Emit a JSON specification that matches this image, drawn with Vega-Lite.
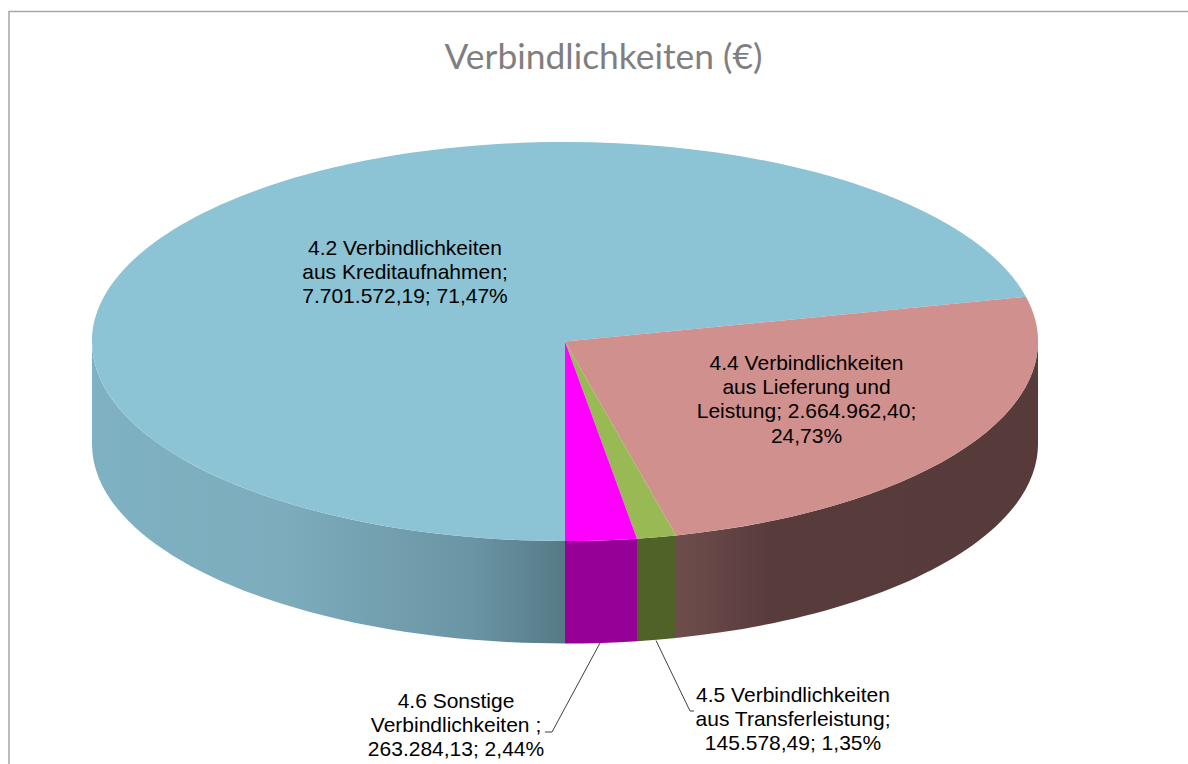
{
  "$schema": "https://vega.github.io/schema/vega-lite/v6.json",
  "width": 1130,
  "height": 683,
  "autosize": {"type": "none"},
  "padding": {"left": 0, "top": 0, "right": 58, "bottom": 81},
  "background": "#ffffff",
  "view": {"stroke": null},
  "title": {"text": "Verbindlichkeiten (€)", "font": "Lato", "fontSize": 35.4, "fontWeight": "normal", "color": "#7F7F7F", "anchor": "middle", "dx": 38.5, "dy": 76, "offset": 0},
  "data": {"values": [
    {"slice": "4.2", "name": "4.2 Verbindlichkeiten aus Kreditaufnahmen", "value": 7701572.19, "percent": 71.47, "label": "4.2 Verbindlichkeiten\naus Kreditaufnahmen;\n7.701.572,19; 71,47%"},
    {"slice": "4.4", "name": "4.4 Verbindlichkeiten aus Lieferung und Leistung", "value": 2664962.40, "percent": 24.73, "label": "4.4 Verbindlichkeiten\naus Lieferung und\nLeistung; 2.664.962,40;\n24,73%"},
    {"slice": "4.5", "name": "4.5 Verbindlichkeiten aus Transferleistung", "value": 145578.49, "percent": 1.35, "label": "4.5 Verbindlichkeiten\naus Transferleistung;\n145.578,49; 1,35%"},
    {"slice": "4.6", "name": "4.6 Sonstige Verbindlichkeiten", "value": 263284.13, "percent": 2.44, "label": "4.6 Sonstige\nVerbindlichkeiten ;\n263.284,13; 2,44%"}
  ]},
  "layer": [
    {"data": {"values": [{"element": "frame"}]},
     "mark": {"type": "point", "size": 4, "filled": false, "stroke": "#A6A6A6", "strokeWidth": 1.5, "opacity": 1, "shape": "M-556,423L-556,-330L623,-330"},
     "encoding": {}},
    {"transform": [{"filter": "datum.slice === '4.2'"}],
     "mark": {"type": "point", "size": 4, "filled": true, "opacity": 1, "shape": "M-473,0L-473,102.5A473,199.5 0 0 0 0,302L0,199.5A473,199.5 0 0 1 -473,0Z",
       "fill": {"gradient": "linear", "x1": 0, "y1": 0, "x2": 1, "y2": 0, "stops": [
         {"offset": 0, "color": "#7EB1C2"}, {"offset": 0.4, "color": "#7DADBD"}, {"offset": 0.6, "color": "#74A0B0"}, {"offset": 0.8, "color": "#6A95A4"}, {"offset": 1, "color": "#557A86"}]}},
     "encoding": {}},
    {"transform": [{"filter": "datum.slice === '4.6'"}],
     "mark": {"type": "point", "size": 4, "filled": true, "opacity": 1, "fill": "#960096", "shape": "M0,199.5L0,302A473,199.5 0 0 0 72,299.7L72,197.2A473,199.5 0 0 1 0,199.5Z"},
     "encoding": {}},
    {"transform": [{"filter": "datum.slice === '4.5'"}],
     "mark": {"type": "point", "size": 4, "filled": true, "opacity": 1, "fill": "#4F6228", "shape": "M72,197.2L72,299.7A473,199.5 0 0 0 111,296.4L111,193.9A473,199.5 0 0 1 72,197.2Z"},
     "encoding": {}},
    {"transform": [{"filter": "datum.slice === '4.4'"}],
     "mark": {"type": "point", "size": 4, "filled": true, "opacity": 1, "shape": "M111,193.9L111,296.4A473,199.5 0 0 0 473,102.5L473,0A473,199.5 0 0 1 111,193.9Z",
       "fill": {"gradient": "linear", "x1": 0, "y1": 0, "x2": 1, "y2": 0, "stops": [
         {"offset": 0, "color": "#6F4D4D"}, {"offset": 0.26, "color": "#583B3B"}, {"offset": 1, "color": "#573A3A"}]}},
     "encoding": {}},
    {"mark": {"type": "point", "size": 4, "filled": true, "opacity": 1},
     "encoding": {
       "shape": {"field": "slice", "type": "nominal", "legend": null, "scale": {"domain": ["4.2", "4.4", "4.5", "4.6"], "range": [
         "M0,0L461,-44.7A473,199.5 0 1 0 0,199.5Z",
         "M0,0L111,193.9A473,199.5 0 0 0 461,-44.7Z",
         "M0,0L72,197.2A473,199.5 0 0 0 111,193.9Z",
         "M0,0L0,199.5A473,199.5 0 0 0 72,197.2Z"]}},
       "fill": {"field": "slice", "type": "nominal", "legend": null, "scale": {"domain": ["4.2", "4.4", "4.5", "4.6"], "range": ["#8CC3D5", "#D0908D", "#98B954", "#FF00FF"]}}
     }},
    {"data": {"values": [{"element": "leader 4.6"}]},
     "mark": {"type": "point", "size": 4, "filled": false, "stroke": "#404040", "strokeWidth": 1, "opacity": 1, "shape": "M35,301.5L-13,390.5L-20,390.5"},
     "encoding": {}},
    {"data": {"values": [{"element": "leader 4.5"}]},
     "mark": {"type": "point", "size": 4, "filled": false, "stroke": "#404040", "strokeWidth": 1, "opacity": 1, "shape": "M91,299L125,369.5L129,369.5"},
     "encoding": {}},
    {"transform": [{"filter": "datum.slice === '4.2'"}],
     "mark": {"type": "text", "font": "Liberation Sans", "fontSize": 21, "color": "#000000", "align": "center", "baseline": "middle", "lineBreak": "\n", "lineHeight": 24.2, "dx": -160, "dy": -92.5},
     "encoding": {"text": {"field": "label"}}},
    {"transform": [{"filter": "datum.slice === '4.4'"}],
     "mark": {"type": "text", "font": "Liberation Sans", "fontSize": 21, "color": "#000000", "align": "center", "baseline": "middle", "lineBreak": "\n", "lineHeight": 24.2, "dx": 241.5, "dy": 22.5},
     "encoding": {"text": {"field": "label"}}},
    {"transform": [{"filter": "datum.slice === '4.5'"}],
     "mark": {"type": "text", "font": "Liberation Sans", "fontSize": 21, "color": "#000000", "align": "center", "baseline": "middle", "lineBreak": "\n", "lineHeight": 24.2, "dx": 228, "dy": 354.5},
     "encoding": {"text": {"field": "label"}}},
    {"transform": [{"filter": "datum.slice === '4.6'"}],
     "mark": {"type": "text", "font": "Liberation Sans", "fontSize": 21, "color": "#000000", "align": "center", "baseline": "middle", "lineBreak": "\n", "lineHeight": 24.2, "dx": -109, "dy": 360.5},
     "encoding": {"text": {"field": "label"}}}
  ]
}
